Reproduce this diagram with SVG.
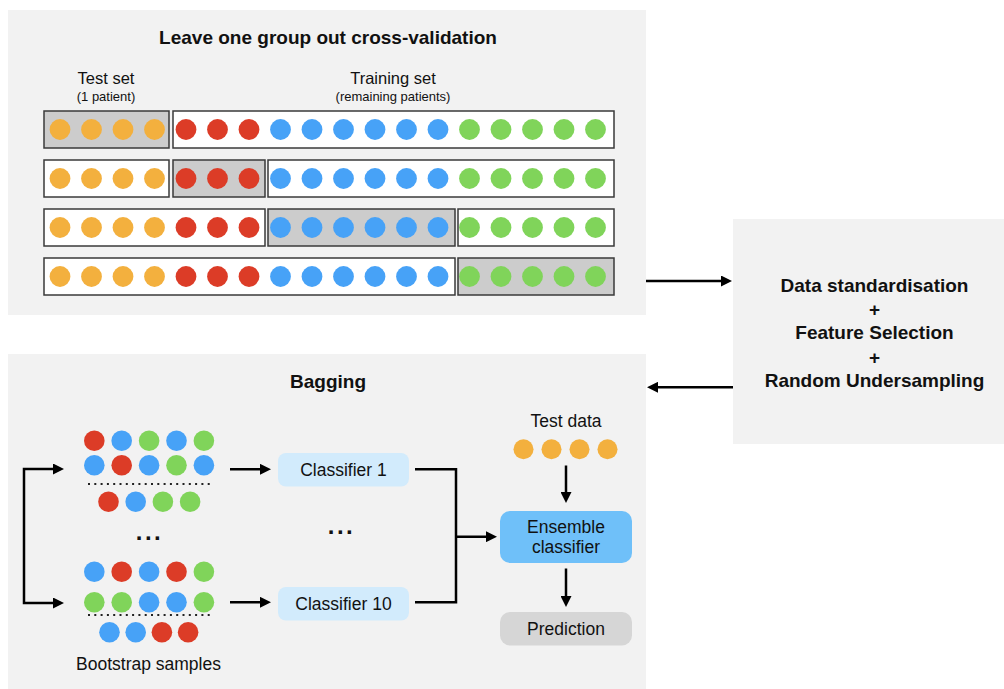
<svg xmlns="http://www.w3.org/2000/svg" width="1004" height="689" viewBox="0 0 1004 689">
  <defs>
    <style>
      .panel { fill: #f2f2f2; }
      .txt { font-family: "Liberation Sans", Arial, Helvetica, sans-serif; fill: #111; }
      .bold { font-weight: bold; font-size: 19px; }
      .lbl { font-size: 17.5px; }
      .lbl-s { font-size: 16.5px; }
      .sub { font-size: 13px; }
      .mid { text-anchor: middle; }
      .seg { stroke: #3a3a3a; stroke-width: 1.5; }
      .seg-w { fill: #ffffff; }
      .seg-g { fill: #cccccc; }
      .o { fill: #f3b03e; }
      .r { fill: #dc3c27; }
      .b { fill: #47a2f7; }
      .g { fill: #80d45a; }
      .conn { fill: none; stroke: #000; stroke-width: 2.5; }
      .dots { fill: none; stroke: #222; stroke-width: 2; stroke-dasharray: 2 4.3; }
      .ell { font-weight: bold; font-size: 24px; letter-spacing: 2.5px; }
    </style>
    <marker id="arrow" markerUnits="userSpaceOnUse" markerWidth="11" markerHeight="11" refX="5" refY="5.5" orient="auto-start-reverse">
      <path d="M0,0 L11,5.5 L0,11 z" fill="#000"/>
    </marker>
    <!-- one patient row: 4 orange, 3 red, 6 blue, 5 green -->
    <g id="patients">
      <circle class="o" cx="60" cy="0" r="10.4"/>
      <circle class="o" cx="91.5" cy="0" r="10.4"/>
      <circle class="o" cx="123" cy="0" r="10.4"/>
      <circle class="o" cx="154.5" cy="0" r="10.4"/>
      <circle class="r" cx="186" cy="0" r="10.4"/>
      <circle class="r" cx="217.5" cy="0" r="10.4"/>
      <circle class="r" cx="249" cy="0" r="10.4"/>
      <circle class="b" cx="280.5" cy="0" r="10.4"/>
      <circle class="b" cx="312" cy="0" r="10.4"/>
      <circle class="b" cx="343.5" cy="0" r="10.4"/>
      <circle class="b" cx="375" cy="0" r="10.4"/>
      <circle class="b" cx="406.5" cy="0" r="10.4"/>
      <circle class="b" cx="438" cy="0" r="10.4"/>
      <circle class="g" cx="469.5" cy="0" r="10.4"/>
      <circle class="g" cx="501" cy="0" r="10.4"/>
      <circle class="g" cx="532.5" cy="0" r="10.4"/>
      <circle class="g" cx="564" cy="0" r="10.4"/>
      <circle class="g" cx="595.5" cy="0" r="10.4"/>
    </g>
  </defs>

  <!-- panel: cross-validation -->
  <g id="cv-panel">
    <rect class="panel" x="8" y="10" width="638" height="305"/>
    <text class="txt bold mid" x="328" y="44">Leave one group out cross-validation</text>
    <text class="txt lbl-s mid" x="106" y="84">Test set</text>
    <text class="txt sub mid" x="106" y="101">(1 patient)</text>
    <text class="txt lbl-s mid" x="393" y="84">Training set</text>
    <text class="txt sub mid" x="393" y="101">(remaining patients)</text>

    <g id="fold-1">
      <rect class="seg seg-g" x="44" y="111" width="125" height="37"/>
      <rect class="seg seg-w" x="173" y="111" width="441" height="37"/>
      <use href="#patients" y="129.5"/>
    </g>
    <g id="fold-2">
      <rect class="seg seg-w" x="44" y="160" width="125" height="37"/>
      <rect class="seg seg-g" x="173" y="160" width="92" height="37"/>
      <rect class="seg seg-w" x="268" y="160" width="346" height="37"/>
      <use href="#patients" y="178.5"/>
    </g>
    <g id="fold-3">
      <rect class="seg seg-w" x="44" y="209" width="221" height="37"/>
      <rect class="seg seg-g" x="268" y="209" width="187" height="37"/>
      <rect class="seg seg-w" x="458" y="209" width="156" height="37"/>
      <use href="#patients" y="227.5"/>
    </g>
    <g id="fold-4">
      <rect class="seg seg-w" x="44" y="258" width="411" height="37"/>
      <rect class="seg seg-g" x="458" y="258" width="156" height="37"/>
      <use href="#patients" y="276.5"/>
    </g>
  </g>

  <!-- preprocessing box -->
  <g id="preprocessing">
    <rect class="panel" x="733" y="219" width="271" height="225"/>
    <text class="txt bold mid" x="874.5" y="291.5">Data standardisation</text>
    <text class="txt bold mid" x="874.5" y="316">+</text>
    <text class="txt bold mid" x="874.5" y="339">Feature Selection</text>
    <text class="txt bold mid" x="874.5" y="363.5">+</text>
    <text class="txt bold mid" x="874.5" y="386.5">Random Undersampling</text>
  </g>

  <!-- panel: bagging -->
  <g id="bagging-panel">
    <rect class="panel" x="8" y="354" width="638" height="335"/>
    <text class="txt bold mid" x="328" y="388">Bagging</text>
  </g>

  <g id="bootstrap-1">
    <circle class="r" cx="94.3" cy="440.7" r="10.3"/>
    <circle class="b" cx="121.7" cy="440.7" r="10.3"/>
    <circle class="g" cx="149.1" cy="440.7" r="10.3"/>
    <circle class="b" cx="176.5" cy="440.7" r="10.3"/>
    <circle class="g" cx="203.9" cy="440.7" r="10.3"/>
    <circle class="b" cx="94.3" cy="465.3" r="10.3"/>
    <circle class="r" cx="121.7" cy="465.3" r="10.3"/>
    <circle class="b" cx="149.1" cy="465.3" r="10.3"/>
    <circle class="g" cx="176.5" cy="465.3" r="10.3"/>
    <circle class="b" cx="203.9" cy="465.3" r="10.3"/>
    <line class="dots" x1="88" y1="484" x2="214" y2="484"/>
    <circle class="r" cx="108.5" cy="501.7" r="10.3"/>
    <circle class="b" cx="135.7" cy="501.7" r="10.3"/>
    <circle class="g" cx="162.9" cy="501.7" r="10.3"/>
    <circle class="g" cx="190.1" cy="501.7" r="10.3"/>
  </g>

  <text id="bootstrap-more" class="txt ell mid" x="149.5" y="539.5">...</text>

  <g id="bootstrap-10">
    <circle class="b" cx="94.3" cy="571.7" r="10.3"/>
    <circle class="r" cx="121.7" cy="571.7" r="10.3"/>
    <circle class="b" cx="149.1" cy="571.7" r="10.3"/>
    <circle class="r" cx="176.5" cy="571.7" r="10.3"/>
    <circle class="g" cx="203.9" cy="571.7" r="10.3"/>
    <circle class="g" cx="94.3" cy="602.3" r="10.3"/>
    <circle class="g" cx="121.7" cy="602.3" r="10.3"/>
    <circle class="b" cx="149.1" cy="602.3" r="10.3"/>
    <circle class="b" cx="176.5" cy="602.3" r="10.3"/>
    <circle class="g" cx="203.9" cy="602.3" r="10.3"/>
    <line class="dots" x1="88" y1="615" x2="214" y2="615"/>
    <circle class="b" cx="109.5" cy="632.3" r="10.3"/>
    <circle class="b" cx="135.7" cy="632.3" r="10.3"/>
    <circle class="r" cx="161.9" cy="632.3" r="10.3"/>
    <circle class="r" cx="188.1" cy="632.3" r="10.3"/>
  </g>

  <text id="bootstrap-label" class="txt lbl mid" x="148.5" y="670">Bootstrap samples</text>

  <g id="classifier-1">
    <rect x="278" y="453" width="131" height="33.5" rx="8" fill="#d2ebfc"/>
    <text class="txt lbl mid" x="343.5" y="476">Classifier 1</text>
  </g>

  <text id="classifier-more" class="txt ell mid" x="341.5" y="533.5">...</text>

  <g id="classifier-10">
    <rect x="278" y="587" width="131" height="33.5" rx="8" fill="#d2ebfc"/>
    <text class="txt lbl mid" x="343.5" y="610">Classifier 10</text>
  </g>

  <g id="test-data">
    <text class="txt lbl mid" x="566" y="427">Test data</text>
    <circle class="o" cx="523.5" cy="449.3" r="10"/>
    <circle class="o" cx="551.5" cy="449.3" r="10"/>
    <circle class="o" cx="579.5" cy="449.3" r="10"/>
    <circle class="o" cx="607.5" cy="449.3" r="10"/>
  </g>

  <g id="ensemble">
    <rect x="500" y="511" width="132" height="52" rx="10" fill="#6fc0f9"/>
    <text class="txt lbl mid" x="566" y="532.5">Ensemble</text>
    <text class="txt lbl mid" x="566" y="553">classifier</text>
  </g>

  <g id="prediction">
    <rect x="500" y="612" width="132" height="33.5" rx="10" fill="#d6d6d6"/>
    <text class="txt lbl mid" x="566" y="635">Prediction</text>
  </g>

  <!-- connectors -->
  <g id="connectors">
    <path class="conn" d="M646,281 H726" marker-end="url(#arrow)"/>
    <path class="conn" d="M733,387.3 H653" marker-end="url(#arrow)"/>
    <path class="conn" d="M58,469 H24 V603 H58" marker-start="url(#arrow)" marker-end="url(#arrow)"/>
    <path class="conn" d="M230,469.3 H265" marker-end="url(#arrow)"/>
    <path class="conn" d="M230,602.3 H265" marker-end="url(#arrow)"/>
    <path class="conn" d="M415,469.3 H456 V602.3 H415"/>
    <path class="conn" d="M456,536.7 H491" marker-end="url(#arrow)"/>
    <path class="conn" d="M566,465.5 V497" marker-end="url(#arrow)"/>
    <path class="conn" d="M566,568.5 V601" marker-end="url(#arrow)"/>
  </g>
</svg>
